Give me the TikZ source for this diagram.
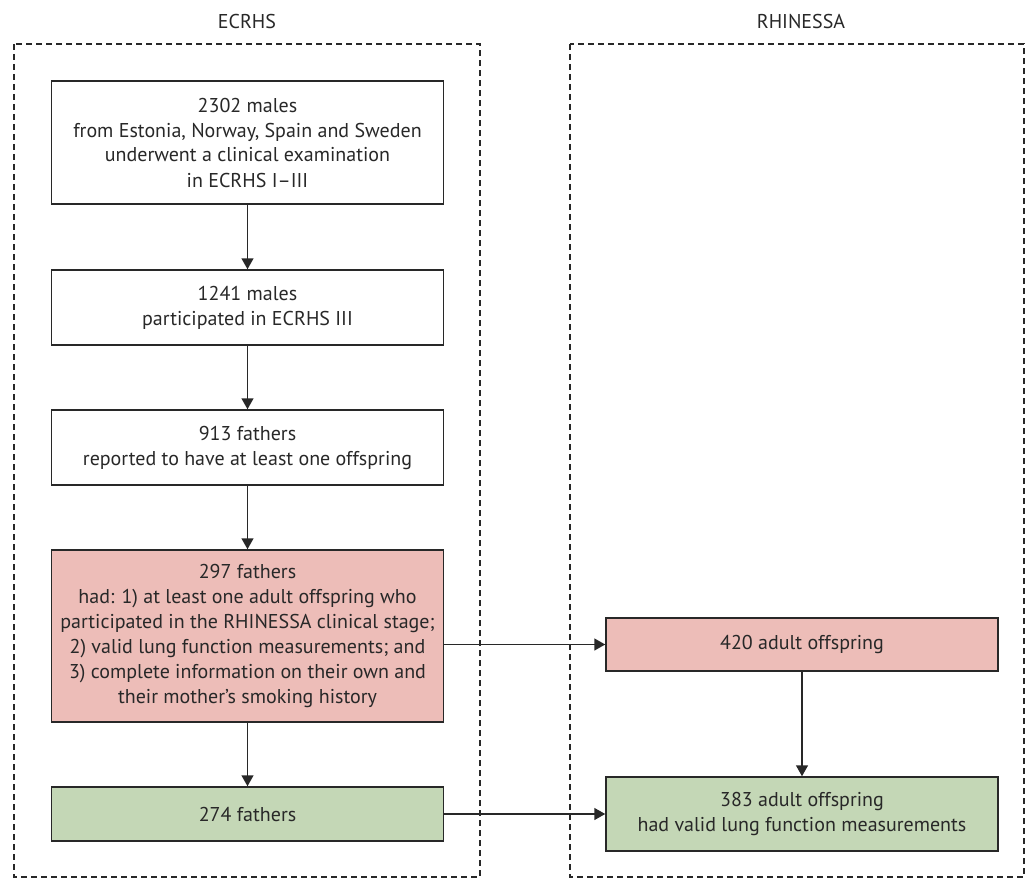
\documentclass[tikz,border=0pt]{standalone}
\usepackage{fontspec}
\setmainfont{PT Sans}
\usetikzlibrary{arrows.meta}
\definecolor{pinkfill}{RGB}{237,189,184}
\definecolor{greenfill}{RGB}{196,215,182}
\definecolor{ink}{RGB}{40,40,40}
\begin{document}
\begin{tikzpicture}[x=1pt,y=-1pt,
  every node/.style={text=ink, font=\fontsize{20}{25}\selectfont},
  flowbox/.style={draw=ink, line width=1.5pt, rectangle, align=center, minimum width=392pt, inner sep=0pt},
  pinkbox/.style={flowbox, fill=pinkfill},
  greenbox/.style={flowbox, fill=greenfill},
  whitebox/.style={flowbox, fill=white},
  group/.style={draw=ink, line width=1.3pt, dash pattern=on 6pt off 4pt},
  arr/.style={draw=ink, line width=1.5pt, -{Triangle[length=11pt,width=12pt]}}]
\useasboundingbox (0,0) rectangle (1026,880);
\draw[group] (14,44) rectangle (480,877);
\draw[group] (570,44) rectangle (1024,877);
\node (lblL) at (247,22) {ECRHS};
\node (lblR) at (801,22) {RHINESSA};
\node[whitebox, minimum height=123pt] (b1) at (247.5,142.5) {2302 males\\from Estonia, Norway, Spain and Sweden\\underwent a clinical examination\\in ECRHS I–III};
\node[whitebox, minimum height=75pt] (b2) at (247.5,307.5) {1241 males\\participated in ECRHS III};
\node[whitebox, minimum height=75pt] (b3) at (247.5,447.5) {913 fathers\\reported to have at least one offspring};
\node[pinkbox, minimum height=172pt] (b4) at (247.5,636) {297 fathers\\had: 1) at least one adult offspring who\\participated in the RHINESSA clinical stage;\\2) valid lung function measurements; and\\3) complete information on their own and\\their mother{\char"0027}s smoking history};
\node[greenbox, minimum height=54pt] (b5) at (247.5,814) {274 fathers};
\node[pinkbox, minimum height=53pt] (r1) at (802,644.5) {420 adult offspring};
\node[greenbox, minimum height=74pt] (r2) at (802,814) {383 adult offspring\\had valid lung function measurements};
\draw[arr] (b1) -- (b2);
\draw[arr] (b2) -- (b3);
\draw[arr] (b3) -- (b4);
\draw[arr] (b4) -- (b5);
\draw[arr] (r1) -- (r2);
\draw[arr] (b4.east |- r1.west) -- (r1.west);
\draw[arr] (b5) -- (r2);
\end{tikzpicture}
\end{document}
